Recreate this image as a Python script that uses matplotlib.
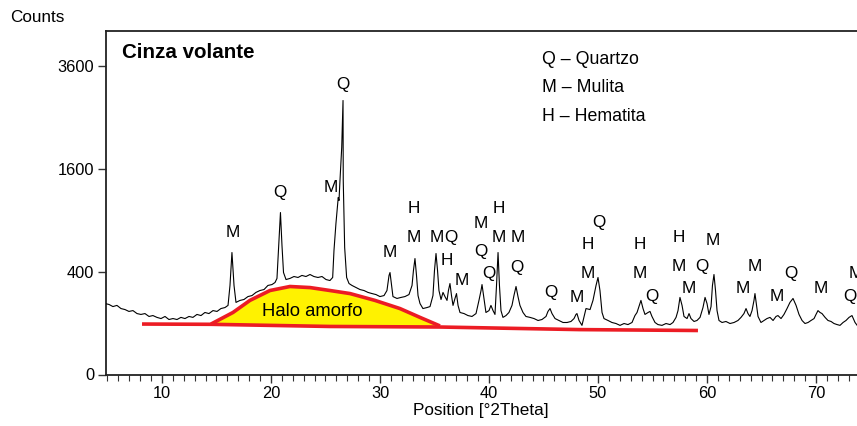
import numpy as np
import matplotlib
matplotlib.use("Agg")
import matplotlib.pyplot as plt

plt.rcParams['font.family'] = ['Liberation Sans', 'DejaVu Sans']

# ---- diffractogram trace (2theta in degrees, counts) ----
two_theta = [4.77, 5.14, 5.50, 5.87, 6.24, 6.61, 6.97, 7.34, 7.71, 8.07, 8.44, 8.81, 9.17, 9.54, 9.91,
             10.28, 10.64, 11.01, 11.38, 11.74, 12.11, 12.48, 12.84, 13.21, 13.58, 13.94, 14.31, 14.68,
             15.05, 15.41, 15.78, 16.06, 16.24, 16.42, 16.61, 16.79, 17.16, 17.52, 17.89, 18.26, 18.62,
             18.99, 19.36, 19.72, 20.09, 20.37, 20.55, 20.73, 20.87, 21.01, 21.15, 21.38, 21.74, 22.11,
             22.48, 22.84, 23.21, 23.58, 23.94, 24.31, 24.68, 25.05, 25.41, 25.66, 25.78, 25.96, 26.17,
             26.24, 26.33, 26.49, 26.61, 26.63, 26.76, 26.94, 27.16, 27.43, 27.80, 28.17, 28.53, 28.90,
             29.27, 29.63, 30.00, 30.37, 30.64, 30.83, 30.92, 31.06, 31.19, 31.56, 31.93, 32.29, 32.66,
             32.94, 33.07, 33.21, 33.35, 33.49, 33.67, 33.94, 34.31, 34.59, 34.86, 35.00, 35.14, 35.28,
             35.41, 35.60, 35.78, 35.96, 36.15, 36.28, 36.42, 36.56, 36.70, 36.88, 37.02, 37.16, 37.34,
             37.71, 38.07, 38.44, 38.81, 39.08, 39.27, 39.36, 39.50, 39.72, 40.00, 40.18, 40.37, 40.55,
             40.69, 40.83, 40.96, 41.10, 41.28, 41.56, 41.83, 42.11, 42.29, 42.48, 42.66, 42.84, 43.12,
             43.39, 43.76, 44.13, 44.50, 44.86, 45.23, 45.41, 45.60, 45.78, 46.06, 46.42, 46.79, 47.16,
             47.52, 47.80, 47.98, 48.07, 48.26, 48.53, 48.90, 49.27, 49.54, 49.82, 50.00, 50.18, 50.37,
             50.55, 50.92, 51.28, 51.65, 52.02, 52.39, 52.75, 53.12, 53.39, 53.58, 53.76, 53.94, 54.13,
             54.31, 54.59, 54.77, 54.95, 55.23, 55.50, 55.87, 56.24, 56.61, 56.88, 57.16, 57.34, 57.52,
             57.71, 57.89, 58.17, 58.35, 58.53, 58.81, 59.08, 59.36, 59.63, 59.82, 60.00, 60.18, 60.37,
             60.50, 60.64, 60.78, 60.92, 61.10, 61.38, 61.74, 62.11, 62.48, 62.84, 63.12, 63.39, 63.58,
             63.76, 63.94, 64.13, 64.31, 64.40, 64.54, 64.68, 64.95, 65.23, 65.50, 65.78, 66.06, 66.33,
             66.51, 66.79, 67.06, 67.34, 67.61, 67.89, 68.17, 68.44, 68.72, 68.99, 69.27, 69.54, 69.82,
             70.00, 70.18, 70.37, 70.55, 70.83, 71.10, 71.38, 71.65, 71.93, 72.20, 72.48, 72.75, 73.03,
             73.30, 73.58, 73.85]
counts = [190, 185, 174, 180, 164, 159, 150, 154, 140, 136, 140, 127, 131, 123, 118,
          127, 114, 118, 114, 123, 118, 127, 123, 136, 131, 145, 140, 154,
          150, 164, 169, 180, 299, 561, 299, 196, 207, 212, 229, 235, 254,
          266, 272, 299, 305, 319, 348, 677, 989, 627, 392, 340, 348, 362,
          355, 370, 362, 377, 362, 355, 362, 340, 333, 355, 580, 860, 1181,
          1142, 1419, 1943, 2831, 1419, 608, 355, 312, 299, 285, 272, 266, 254,
          247, 241, 229, 235, 266, 370, 392, 299, 229, 218, 224, 229, 241,
          299, 408, 507, 370, 235, 190, 164, 169, 174, 235, 408, 552, 408,
          266, 212, 254, 229, 207, 266, 312, 235, 180, 218, 247, 180, 145,
          140, 131, 127, 140, 207, 266, 305, 235, 145, 154, 180, 154, 136,
          299, 561, 299, 154, 123, 131, 145, 180, 235, 292, 229, 180, 145,
          127, 123, 118, 110, 114, 127, 150, 164, 140, 118, 110, 102, 102,
          106, 118, 136, 140, 110, 91, 164, 159, 207, 299, 355, 266, 145,
          118, 110, 102, 98, 91, 98, 94, 102, 131, 145, 174, 207, 164,
          136, 145, 150, 127, 102, 94, 91, 98, 94, 102, 123, 154, 224,
          180, 127, 118, 140, 118, 106, 110, 123, 169, 224, 190, 136, 174,
          299, 377, 266, 154, 110, 102, 106, 98, 102, 110, 123, 140, 164,
          140, 127, 154, 207, 247, 180, 127, 102, 110, 118, 123, 110, 127,
          131, 118, 136, 164, 196, 218, 180, 136, 110, 98, 102, 110, 118,
          136, 154, 145, 140, 123, 110, 106, 98, 94, 91, 102, 110, 123,
          131, 102, 87]

# ---- amorphous halo (upper curve) and red baseline ----
halo_x = [14.50, 16.51, 18.07, 19.91, 21.74, 23.58, 25.41, 27.25, 29.54, 31.83, 33.67, 35.50]
halo_y = [96, 145, 207, 266, 292, 285, 266, 247, 207, 164, 123, 89]
base_x = [8.17, 14.50, 25.41, 35.50, 48.35, 59.17]
base_y = [96, 95, 87, 85, 76, 73]

# ---- phase labels ----
label_text = ['M', 'Q', 'Q', 'M', 'M', 'H', 'M', 'M', 'Q', 'H', 'M', 'M', 'Q', 'Q',
              'H', 'M', 'M', 'Q', 'Q', 'M', 'M', 'H', 'Q', 'H', 'M', 'Q', 'H', 'M',
              'Q', 'M', 'M', 'M', 'M', 'M', 'Q', 'M', 'Q', 'M']
label_x = [16.51, 20.83, 26.61, 25.50, 30.92, 33.12, 33.12, 35.23, 36.51, 36.15, 37.52, 39.27, 39.27, 40.00,
           40.92, 40.92, 42.66, 42.57, 45.69, 48.07, 49.08, 49.08, 50.09, 53.85, 53.85, 54.95, 57.43, 57.43,
           59.54, 60.55, 58.35, 63.30, 64.40, 66.42, 67.71, 70.46, 73.12, 73.67]
label_y = [760, 1249, 3171, 1318, 561, 1039, 708, 708, 708, 490, 333, 860, 570, 385,
           1039, 708, 708, 432, 254, 224, 385, 637, 871, 637, 385, 229, 708, 440,
           440, 677, 279, 279, 440, 229, 385, 279, 229, 385]

legend_lines = ['Q – Quartzo', 'M – Mulita', 'H – Hematita']
y_ticks = [0, 400, 1600, 3600]
x_ticks = [10, 20, 30, 40, 50, 60, 70]

fig = plt.figure(figsize=(8.57, 4.26), dpi=100)
ax = fig.add_axes([105.5 / 857, (426 - 374.5) / 426, 1 - 105.5 / 857, 343.5 / 426])

ax.set_yscale('function', functions=(lambda v: np.sqrt(np.maximum(v, 0)), lambda v: np.square(v)))
ax.set_xlim(4.82, 73.76)
ax.set_ylim(0, 4449)

red = '#ec1c24'
ax.fill(list(halo_x) + base_x[::-1][:0] + [35.50, 25.41, 14.50],
        list(halo_y) + [85, 87, 95], color='#fff200', zorder=1, lw=0)
ax.plot(halo_x, halo_y, color=red, lw=2.6, zorder=2, solid_capstyle='butt')
ax.plot(base_x, base_y, color=red, lw=2.6, zorder=2, solid_capstyle='butt')
ax.plot(two_theta, counts, color='black', lw=0.8, zorder=3)

for t, x, y in zip(label_text, label_x, label_y):
    ax.text(x, y, t, ha='center', va='center', fontsize=12.3, zorder=4)

ax.text(23.76, 150, 'Halo amorfo', ha='center', va='center', fontsize=13.3, zorder=4)
ax.text(0.022, 0.937, 'Cinza volante', transform=ax.transAxes, ha='left', va='center',
        fontsize=14.8, fontweight='bold')
for i, line in enumerate(legend_lines):
    ax.text(0.581, [0.917, 0.835, 0.751][i], line, transform=ax.transAxes, ha='left',
            va='center', fontsize=12.8)

ax.set_yticks(y_ticks)
ax.set_yticklabels([str(v) for v in y_ticks])
ax.yaxis.set_minor_locator(matplotlib.ticker.NullLocator())
ax.set_xticks(x_ticks)
ax.set_xticks(np.arange(5, 74, 1), minor=True)
ax.tick_params(axis='both', which='major', direction='out', length=6, width=1, labelsize=11.8, pad=2, color='#333333')
ax.tick_params(axis='x', which='minor', direction='out', length=4, width=0.8, color='#333333')
ax.spines['right'].set_visible(False)
for s in ['left', 'top', 'bottom']:
    ax.spines[s].set_linewidth(1.3)
    ax.spines[s].set_color('#222222')

ax.set_xlabel('Position [°2Theta]', fontsize=12.3, labelpad=2)
fig.text(10 / 857, (426 - 18) / 426, 'Counts', ha='left', va='center', fontsize=12.3)

fig.savefig('out.png', dpi=100)
